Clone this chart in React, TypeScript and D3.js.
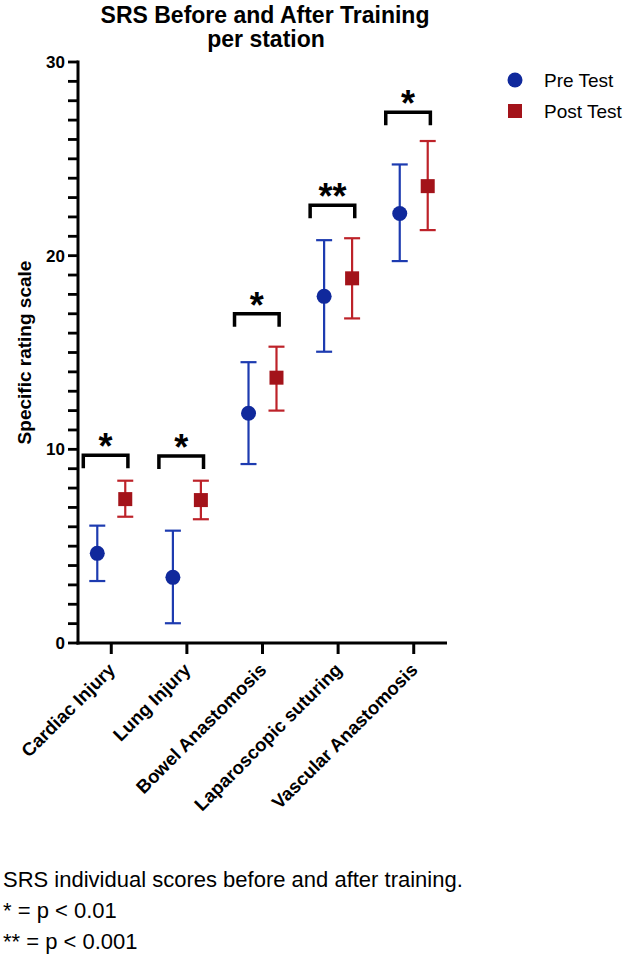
import React from "react";
import * as d3 from "d3";

const categories = ["Cardiac Injury", "Lung Injury", "Bowel Anastomosis", "Laparoscopic suturing", "Vascular Anastomosis"];
const preMean = [4.63, 3.39, 11.86, 17.9, 22.18];
const preLow = [3.2, 1.02, 9.24, 15.04, 19.72];
const preHigh = [6.06, 5.8, 14.5, 20.8, 24.71];
const postMean = [7.43, 7.38, 13.7, 18.83, 23.59];
const postLow = [6.52, 6.39, 12.0, 16.76, 21.32];
const postHigh = [8.38, 8.38, 15.3, 20.9, 25.92];
const sigLevel = [9.7, 9.65, 17.0, 22.6, 27.4];
const sigMark = ["*", "*", "*", "**", "*"];
const yTicks = [0, 10, 20, 30];
const yMinorTicks = d3.range(0, 31, 1);
const seriesNames = ["Pre Test", "Post Test"];
const footerLines = ["SRS individual scores before and after training.", "* = p < 0.01", "** = p < 0.001"];

const W = 629;
const H = 966;
const BLUE = "#10299c";
const BLUE_BAR = "#1d3bb0";
const RED = "#a3131a";
const RED_BAR = "#bd2229";
const FONT = "'Liberation Sans', Arial, Helvetica, sans-serif";

export default function App() {
  const y = d3.scaleLinear().domain([0, 30]).range([643, 62]);
  const x = d3.scalePoint<string>().domain(categories).range([78, 447]).padding(0.44);
  const step = x.step();
  const off = step * 0.185;
  const cap = 8;
  const r = 7.5;
  const sq = 14;
  const x0 = 78;
  const x1 = 447;
  const y0 = y(0);

  return (
    <svg width={W} height={H} style={{ position: "absolute", left: 0, top: 0, background: "#fff" }} fontFamily={FONT}>
      {/* title */}
      <text x={265} y={23} textAnchor="middle" fontWeight="bold" fontSize={23}>SRS Before and After Training</text>
      <text x={266} y={47} textAnchor="middle" fontWeight="bold" fontSize={23}>per station</text>

      {/* y axis */}
      {yMinorTicks.map((t) => (
        <rect key={"yt" + t} x={x0 - 10} y={y(t) - 1.4} width={10} height={2.8} fill="#000" />
      ))}
      <rect x={x0 - 1.5} y={y(30) - 1.5} width={3} height={y0 - y(30) + 3} fill="#000" />
      {yTicks.map((t) => (
        <text key={"yl" + t} x={65} y={y(t)} dy="0.36em" textAnchor="end" fontWeight="bold" fontSize={17}>{t}</text>
      ))}
      <text transform={`translate(31,${(y(0) + y(30)) / 2 + 0}) rotate(-90)`} textAnchor="middle" fontWeight="bold" fontSize={19}>Specific rating scale</text>

      {/* x axis */}
      <line x1={x0 - 1.5} x2={x1} y1={y0} y2={y0} stroke="#000" strokeWidth={3} />
      {categories.map((c) => (
        <line key={"xt" + c} x1={x(c)} x2={x(c)} y1={y0} y2={y0 + 11} stroke="#000" strokeWidth={3} />
      ))}
      {categories.map((c) => (
        <text key={"xl" + c} transform={`translate(${(x(c) as number) + 5},${y0 + 28}) rotate(-45)`} textAnchor="end" fontWeight="bold" fontSize={18.5}>{c}</text>
      ))}

      {/* error bars and markers */}
      {categories.map((c, i) => {
        const xp = (x(c) as number) - off;
        const xq = (x(c) as number) + off;
        return (
          <g key={"m" + c}>
            <g stroke={BLUE_BAR} strokeWidth={2.2} fill="none">
              <line x1={xp} x2={xp} y1={y(preLow[i])} y2={y(preHigh[i])} />
              <line x1={xp - cap} x2={xp + cap} y1={y(preLow[i])} y2={y(preLow[i])} />
              <line x1={xp - cap} x2={xp + cap} y1={y(preHigh[i])} y2={y(preHigh[i])} />
            </g>
            <circle cx={xp} cy={y(preMean[i])} r={r} fill={BLUE} />
            <g stroke={RED_BAR} strokeWidth={2.2} fill="none">
              <line x1={xq} x2={xq} y1={y(postLow[i])} y2={y(postHigh[i])} />
              <line x1={xq - cap} x2={xq + cap} y1={y(postLow[i])} y2={y(postLow[i])} />
              <line x1={xq - cap} x2={xq + cap} y1={y(postHigh[i])} y2={y(postHigh[i])} />
            </g>
            <rect x={xq - sq / 2} y={y(postMean[i]) - sq / 2} width={sq} height={sq} fill={RED} />
          </g>
        );
      })}

      {/* significance brackets */}
      {categories.map((c, i) => {
        const bl = (x(c) as number) - step * 0.37;
        const br = (x(c) as number) + step * 0.22;
        const by = y(sigLevel[i]);
        return (
          <g key={"s" + c}>
            <path d={`M${bl},${by + 13}V${by}H${br}V${by + 13}`} fill="none" stroke="#000" strokeWidth={3.5} />
            <text x={(bl + br) / 2} y={by + 4} textAnchor="middle" fontWeight="bold" fontSize={36}>{sigMark[i]}</text>
          </g>
        );
      })}

      {/* legend */}
      <circle cx={515} cy={80} r={r} fill={BLUE} />
      <text x={544} y={80} dy="0.35em" fontSize={19}>{seriesNames[0]}</text>
      <rect x={515 - sq / 2} y={111 - sq / 2} width={sq} height={sq} fill={RED} />
      <text x={544} y={111} dy="0.35em" fontSize={19}>{seriesNames[1]}</text>

      {/* footer */}
      {footerLines.map((l, i) => (
        <text key={"f" + i} x={3} y={887 + i * 31} fontSize={22}>{l}</text>
      ))}
    </svg>
  );
}
